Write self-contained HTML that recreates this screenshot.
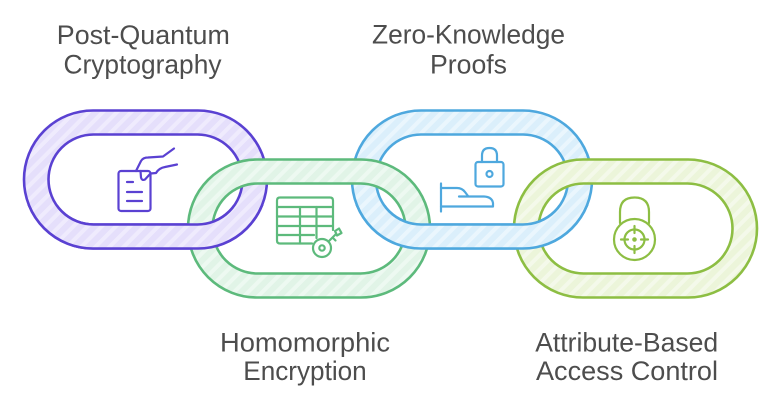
<!DOCTYPE html>
<html>
<head>
<meta charset="utf-8">
<style>
  html, body { margin: 0; padding: 0; background: #ffffff; }
  body { width: 768px; height: 403px; overflow: hidden; }
  svg { display: block; }
  .lbl { font-family: "Liberation Sans", Arial, sans-serif; font-size: 27px; fill: #4d4d4d; }
</style>
</head>
<body>
<svg width="768" height="403" viewBox="0 0 768 403" xmlns="http://www.w3.org/2000/svg">
  <defs>
    <pattern id="pP" width="10" height="10" patternUnits="userSpaceOnUse" patternTransform="rotate(45)">
      <rect width="10" height="10" fill="#e5dffb"/>
      <rect width="4" height="10" fill="#efebfd"/>
    </pattern>
    <pattern id="pG" width="10" height="10" patternUnits="userSpaceOnUse" patternTransform="rotate(45)">
      <rect width="10" height="10" fill="#e1f4e7"/>
      <rect width="4" height="10" fill="#edf9f1"/>
    </pattern>
    <pattern id="pB" width="10" height="10" patternUnits="userSpaceOnUse" patternTransform="rotate(45)">
      <rect width="10" height="10" fill="#dbeffb"/>
      <rect width="4" height="10" fill="#eaf6fd"/>
    </pattern>
    <pattern id="pL" width="10" height="10" patternUnits="userSpaceOnUse" patternTransform="rotate(45)">
      <rect width="10" height="10" fill="#ecf5da"/>
      <rect width="4" height="10" fill="#f4f9ea"/>
    </pattern>
    <clipPath id="bottomClip">
      <rect x="0" y="205" width="768" height="198"/>
    </clipPath>

    <path id="ringP" fill-rule="evenodd"
      d="M93,110.5 H198 A69,69 0 0 1 198,248.5 H93 A69,69 0 0 1 93,110.5 Z
         M93.5,134.5 H197.5 A45,45 0 0 1 197.5,224.5 H93.5 A45,45 0 0 1 93.5,134.5 Z"/>
    <path id="ringG" fill-rule="evenodd"
      d="M257,159.5 H361 A69,69 0 0 1 361,297.5 H257 A69,69 0 0 1 257,159.5 Z
         M257.5,183.5 H360.5 A45,45 0 0 1 360.5,273.5 H257.5 A45,45 0 0 1 257.5,183.5 Z"/>
    <path id="ringB" fill-rule="evenodd"
      d="M421,110.5 H523 A69,69 0 0 1 523,248.5 H421 A69,69 0 0 1 421,110.5 Z
         M421,134.5 H523 A45,45 0 0 1 523,224.5 H421 A45,45 0 0 1 421,134.5 Z"/>
    <path id="ringL" fill-rule="evenodd"
      d="M583,159.5 H688 A69,69 0 0 1 688,297.5 H583 A69,69 0 0 1 583,159.5 Z
         M583.5,183.5 H687.5 A45,45 0 0 1 687.5,273.5 H583.5 A45,45 0 0 1 583.5,183.5 Z"/>
  </defs>

  <!-- rings, interlocked -->
  <use href="#ringP" fill="url(#pP)" stroke="#5a41d2" stroke-width="2.6"/>
  <use href="#ringB" fill="url(#pB)" stroke="#4ea8de" stroke-width="2.6"/>
  <use href="#ringG" fill="url(#pG)" stroke="#5dba7c" stroke-width="2.6"/>
  <use href="#ringL" fill="url(#pL)" stroke="#8dbe43" stroke-width="2.6"/>
  <g clip-path="url(#bottomClip)">
    <use href="#ringP" fill="url(#pP)" stroke="#5a41d2" stroke-width="2.6"/>
    <use href="#ringB" fill="url(#pB)" stroke="#4ea8de" stroke-width="2.6"/>
  </g>

  <!-- Purple icon: document with hand -->
  <g fill="none" stroke="#5a41d2" stroke-width="2.2" stroke-linecap="round" stroke-linejoin="round">
    <rect x="118.5" y="171" width="32" height="40" rx="2.5"/>
    <path d="M127,182 H133 M127,192 H142 M127,201 H142"/>
    <path d="M136,171 L141,161 Q143,157.5 148,157.5 L163,156.5 L174,148.5"/>
    <path d="M140.5,171 L141,177.5 Q142,181 145,179.5 L150.5,173.5 L156,173 Q159,168 165,167 L177,164.5"/>
  </g>

  <!-- Green icon: table with key -->
  <g fill="none" stroke="#5dba7c" stroke-width="2.2" stroke-linecap="round" stroke-linejoin="round">
    <path d="M312,243.5 H280 Q277,243.5 277,240.5 V200.5 Q277,197.5 280,197.5 H330 Q333,197.5 333,200.5 V230"/>
    <path d="M277,207 H333 M277,216.5 H333 M277,226 H333 M277,235 H314"/>
    <path d="M300,207 V243.5 M316.5,207 V238"/>
    <circle cx="322" cy="248" r="9"/>
    <circle cx="322" cy="248" r="2.7"/>
    <path d="M328.5,241.5 L336,234 M332.5,237.5 L335.5,240.5 M335,231 L339,228.5 L341.5,233 L337,235.5 Z"/>
  </g>

  <!-- Blue icon: lock and shoe -->
  <g fill="none" stroke="#4ea8de" stroke-width="2.2" stroke-linecap="round" stroke-linejoin="round">
    <path d="M482,162 V155.5 Q482,148 489.5,148 Q497,148 497,155.5 V162"/>
    <rect x="475.5" y="162" width="28" height="24.5" rx="2.5"/>
    <circle cx="489.5" cy="174" r="3"/>
    <path d="M441,183.5 V211.5"/>
    <path d="M441,188 H457 Q462,188 465,192 L468,196"/>
    <path d="M459,196.5 H484 Q492,197 493,203 V206.5 H441"/>
  </g>

  <!-- Lime icon: padlock with crosshair -->
  <g fill="none" stroke="#8dbe43" stroke-width="2.2" stroke-linecap="round" stroke-linejoin="round">
    <path d="M620,223 V212 Q620,197.5 634.5,197.5 Q649,197.5 649,212 V223"/>
    <circle cx="634.5" cy="239.5" r="20.5"/>
    <circle cx="634.5" cy="239.5" r="10"/>
    <path d="M634.5,226 V233 M634.5,246 V253 M621,239.5 H628 M641,239.5 H648"/>
    <circle cx="634.5" cy="239.5" r="1.2" fill="#8dbe43"/>
  </g>

  <!-- Labels -->
  <text class="lbl" x="143.3" y="44" text-anchor="middle" textLength="173" lengthAdjust="spacingAndGlyphs">Post-Quantum</text>
  <text class="lbl" x="142.5" y="73.5" text-anchor="middle" textLength="158" lengthAdjust="spacingAndGlyphs">Cryptography</text>

  <text class="lbl" x="468.5" y="43.5" text-anchor="middle" textLength="193" lengthAdjust="spacingAndGlyphs">Zero-Knowledge</text>
  <text class="lbl" x="468.5" y="73.5" text-anchor="middle" textLength="77" lengthAdjust="spacingAndGlyphs">Proofs</text>

  <text class="lbl" x="305" y="351.7" text-anchor="middle" textLength="170" lengthAdjust="spacingAndGlyphs">Homomorphic</text>
  <text class="lbl" x="305" y="380" text-anchor="middle" textLength="123.4" lengthAdjust="spacingAndGlyphs">Encryption</text>

  <text class="lbl" x="626.7" y="351.7" text-anchor="middle" textLength="183" lengthAdjust="spacingAndGlyphs">Attribute-Based</text>
  <text class="lbl" x="627" y="380" text-anchor="middle" textLength="182" lengthAdjust="spacingAndGlyphs">Access Control</text>
</svg>
</body>
</html>
